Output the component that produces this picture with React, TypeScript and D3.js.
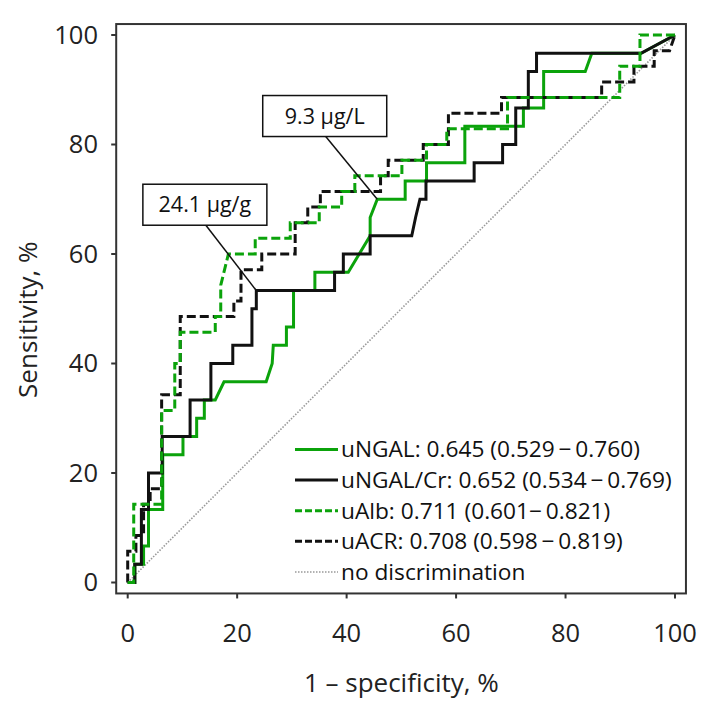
import React from 'react';
import * as d3 from 'd3';

// ROC points: [1 - specificity %, sensitivity %]
const ungalRoc: [number, number][] = [
  [0, 0], [1.3, 0], [1.3, 3.33], [2.9, 3.33], [2.9, 6.67], [3.8, 6.67], [3.8, 13.33],
  [6.4, 13.33], [6.4, 23.33], [10.1, 23.33], [10.1, 26.67], [12.6, 26.67], [12.6, 30],
  [14, 30], [14, 33.33], [16, 33.33], [17.6, 36.67], [25.3, 36.67], [26.4, 40],
  [26.6, 43.33], [29, 43.33], [29, 46.67], [30.3, 46.67], [30.3, 53.33], [34.2, 53.33],
  [34.2, 56.67], [40.3, 56.67], [44.3, 63.33], [44.3, 66.67], [45.6, 70], [50.7, 70],
  [50.7, 73.33], [54.6, 73.33], [54.6, 76.67], [61.6, 76.67], [61.6, 83.33], [72.3, 83.33],
  [72.3, 86.67], [76, 86.67], [76, 93.33], [83.6, 93.33], [84.8, 96.67], [93.8, 96.67],
  [100, 100],
];

const ungalCrRoc: [number, number][] = [
  [0, 0], [1.3, 0], [1.3, 3.33], [2.5, 3.33], [2.5, 13.33], [3.8, 13.33], [3.8, 20],
  [6.3, 20], [6.3, 26.67], [11.4, 26.67], [11.4, 33.33], [15.2, 33.33], [15.2, 40],
  [19.2, 40], [19.2, 43.33], [22.7, 43.33], [22.7, 50], [23.5, 50], [23.5, 53.33],
  [37.8, 53.33], [37.8, 56.67], [39.4, 56.67], [39.4, 60], [44.3, 60], [44.3, 63.33],
  [51.9, 63.33], [52.6, 66.67], [53.4, 70], [54.5, 70], [54.5, 73.33], [63.3, 73.33],
  [63.3, 76.67], [68.5, 76.67], [68.5, 80], [70.9, 80], [70.9, 86.67], [73.2, 86.67],
  [73.2, 93.33], [74.7, 93.33], [74.7, 96.67], [93.8, 96.67], [100, 100],
];

const ualbRoc: [number, number][] = [
  [0, 0], [1.1, 0], [1.1, 14.29], [6.2, 14.29], [6.2, 31.43], [8.6, 31.43], [8.6, 40],
  [9.6, 40], [9.6, 45.71], [16, 45.71], [16, 48.57], [17, 48.57], [17, 54.29], [18.4, 60],
  [23.3, 60], [23.3, 62.86], [29.7, 62.86], [29.7, 65.71], [35, 65.71], [35, 68.57],
  [39.1, 68.57], [39.1, 71.43], [41.5, 71.43], [41.5, 74.29], [50.1, 74.29], [50.1, 77.14],
  [54.6, 77.14], [54.6, 80], [58.3, 80], [58.3, 82.86], [69.4, 82.86], [69.4, 88.57],
  [89.9, 88.57], [89.9, 94.29], [93.6, 94.29], [93.6, 100], [100, 100],
];

const uacrRoc: [number, number][] = [
  [0, 0], [0, 5.71], [1.5, 5.71], [1.5, 8.57], [2.9, 8.57], [2.9, 14.29], [4.1, 14.29],
  [4.1, 17.14], [6.2, 17.14], [6.2, 34.29], [7.4, 34.29], [9.6, 34.29], [9.6, 48.57],
  [19.4, 48.57], [19.4, 51.43], [20.7, 51.43], [20.7, 57.14], [24.5, 57.14], [24.5, 60],
  [30.6, 60], [30.6, 65.71], [32.9, 65.71], [32.9, 68.57], [35.2, 68.57], [35.2, 71.43],
  [46.2, 71.43], [46.2, 74.29], [47.6, 74.29], [47.6, 77.14], [54, 77.14], [54, 80],
  [58.6, 80], [58.6, 85.71], [68.3, 85.71], [68.3, 88.57], [86.6, 88.57], [86.6, 91.43],
  [92.5, 91.43], [92.5, 94.29], [96.2, 94.29], [96.2, 97.14], [99, 97.14], [100, 100],
];

const diagonal: [number, number][] = [[0, 0], [100, 100]];

const legendLabels = [
  'uNGAL: 0.645 (0.529\u2009\u2212\u20090.760)',
  'uNGAL/Cr: 0.652 (0.534\u2009\u2212\u20090.769)',
  'uAlb: 0.711 (0.601\u2212\u20090.821)',
  'uACR: 0.708 (0.598\u2009\u2212\u20090.819)',
  'no discrimination',
];

const xTicks = [0, 20, 40, 60, 80, 100];
const yTicks = [0, 20, 40, 60, 80, 100];

// cut-off annotations: label, box centre (data units), point on curve
const cutoffLabels = ['9.3 \u00b5g/L', '24.1 \u00b5g/g'];
const cutoffBoxes: [number, number][] = [[36.0, 85.2], [14.1, 69.0]];
const cutoffPoints: [number, number][] = [[45.6, 70], [23.5, 53.33]];

const GREEN = '#0ba30b';
const FONT = "'Open Sans', 'Noto Sans', sans-serif";

const series = [
  { data: ungalRoc, color: GREEN, dash: undefined as string | undefined },
  { data: ungalCrRoc, color: '#111', dash: undefined as string | undefined },
  { data: uacrRoc, color: '#111', dash: '9 4' },
  { data: ualbRoc, color: GREEN, dash: '9 4' },
];

const legendStyles = [
  { color: GREEN, dash: undefined as string | undefined, w: 3 },
  { color: '#111', dash: undefined as string | undefined, w: 3 },
  { color: GREEN, dash: '7 3', w: 3 },
  { color: '#111', dash: '7 3', w: 3 },
  { color: '#999', dash: '1.5 1.5', w: 1.5 },
];

const App: React.FC = () => {
  const width = 712;
  const height = 711;

  const x = d3.scaleLinear().domain([0, 100]).range([127.7, 675]);
  const y = d3.scaleLinear().domain([0, 100]).range([582.5, 35]);

  const line = d3.line<[number, number]>()
    .x(d => x(d[0]))
    .y(d => y(d[1]));

  const left = x(-2.1);
  const right = x(102);
  const top = y(102);
  const bottom = y(-2);

  const boxW = 124;
  const boxH = 41;

  return (
    <svg width={width} height={height} style={{ position: 'absolute', left: 0, top: 0, background: '#fff' }}
      fontFamily={FONT}>
      <rect x={0} y={0} width={width} height={height} fill="#fff" />

      {/* no discrimination line */}
      <path d={line(diagonal) || ''} fill="none" stroke="#999" strokeWidth={1.6} strokeDasharray="1.5 1.5" />

      {series.map((s, i) => (
        <path key={i} d={line(s.data) || ''} fill="none" stroke={s.color} strokeWidth={3}
          strokeDasharray={s.dash} strokeLinejoin="miter" />
      ))}

      {/* frame */}
      <rect x={left} y={top} width={right - left} height={bottom - top} fill="none" stroke="#333" strokeWidth={2} />

      {/* x ticks */}
      {xTicks.map(t => (
        <g key={'x' + t}>
          <line x1={x(t)} x2={x(t)} y1={bottom} y2={bottom + 5} stroke="#333" strokeWidth={2} />
          <text x={x(t)} y={642} textAnchor="middle" fontSize={25.5} fill="#222">{t}</text>
        </g>
      ))}

      {/* y ticks */}
      {yTicks.map(t => (
        <g key={'y' + t}>
          <line x1={left - 5} x2={left} y1={y(t)} y2={y(t)} stroke="#333" strokeWidth={2} />
          <text x={98} y={y(t)} dy="0.35em" textAnchor="end" fontSize={25.5} fill="#222">{t}</text>
        </g>
      ))}

      <text x={(x(0) + x(100)) / 2} y={692} textAnchor="middle" fontSize={26} fill="#222">
        1 {'\u2013'} specificity, %
      </text>
      <text transform={`translate(37, ${y(48)}) rotate(-90)`} textAnchor="middle" fontSize={26} fill="#222">
        Sensitivity, %
      </text>

      {/* legend */}
      {legendLabels.map((lab, i) => {
        const ly = 449.5 + i * 30.6;
        const st = legendStyles[i];
        return (
          <g key={lab}>
            <line x1={295} x2={338} y1={ly} y2={ly} stroke={st.color} strokeWidth={st.w} strokeDasharray={st.dash} />
            <text x={341} y={ly} dy="0.35em" fontSize={22.7} fill="#111">{lab}</text>
          </g>
        );
      })}

      {/* cut-off annotations */}
      {cutoffLabels.map((lab, i) => {
        const cx = x(cutoffBoxes[i][0]);
        const cy = y(cutoffBoxes[i][1]);
        const px = x(cutoffPoints[i][0]);
        const py = y(cutoffPoints[i][1]);
        return (
          <g key={lab}>
            <line x1={cx + 1} y1={cy + boxH / 2} x2={px} y2={py} stroke="#111" strokeWidth={1.5} />
            <rect x={cx - boxW / 2} y={cy - boxH / 2} width={boxW} height={boxH} fill="#fff" stroke="#111" strokeWidth={1.5} />
            <text x={cx} y={cy} dy="0.35em" textAnchor="middle" fontSize={21.5} fill="#111">{lab}</text>
          </g>
        );
      })}
    </svg>
  );
};

export default App;
